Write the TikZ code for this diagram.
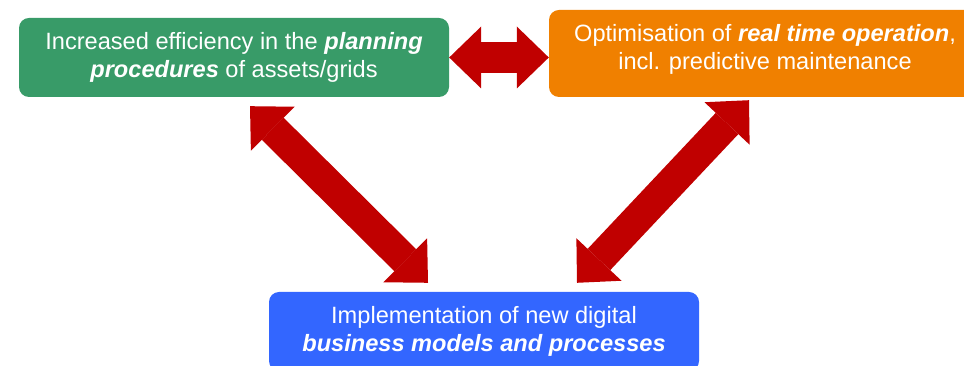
\documentclass[tikz,border=0pt]{standalone}
\usepackage{fontspec}
\setmainfont{Liberation Sans}
\definecolor{planGreen}{RGB}{56,155,104}
\definecolor{opOrange}{RGB}{240,128,0}
\definecolor{bizBlue}{RGB}{51,102,255}
\definecolor{linkRed}{RGB}{192,0,0}
\usetikzlibrary{arrows.meta, calc}
\newcommand{\keyterm}[1]{\textbf{\textit{#1}}}

\begin{document}
\begin{tikzpicture}[x=1pt, y=1pt,
  box/.style={rounded corners=10pt, text=white, align=center, inner sep=0pt,
    minimum width=430pt, minimum height=79pt, font=\fontsize{23.6}{28}\selectfont},
  link/.style={draw=linkRed, line width=31pt, <->,
    >={Triangle[width=62pt, length=32pt, line width=0pt]}}]
  \path[use as bounding box] (0,0) rectangle (964,366);
  \clip (0,0) rectangle (964,366);

  \node[box, fill=planGreen] (planning) at (234,308.5) {Increased efficiency in the \keyterm{planning}\\ \keyterm{procedures} of assets/grids};
  \node[box, fill=opOrange, minimum width=432pt, minimum height=87pt, text depth=14pt] (operation) at (765,312.5) {Optimisation of \keyterm{real time operation},\\ incl. predictive maintenance};
  \node[box, fill=bizBlue] (business) at (484,34.5) {Implementation of new digital\\ \keyterm{business models and processes}};

  \draw[link] (planning.east) -- (planning.east -| operation.west);
  \draw[link] ($(planning.south)+(16,-9)$) -- ($(business.north)+(-56,9)$);
  \draw[link] ($(operation.south)+(-16,-3)$) -- ($(business.north)+(93,9)$);
\end{tikzpicture}
\end{document}
